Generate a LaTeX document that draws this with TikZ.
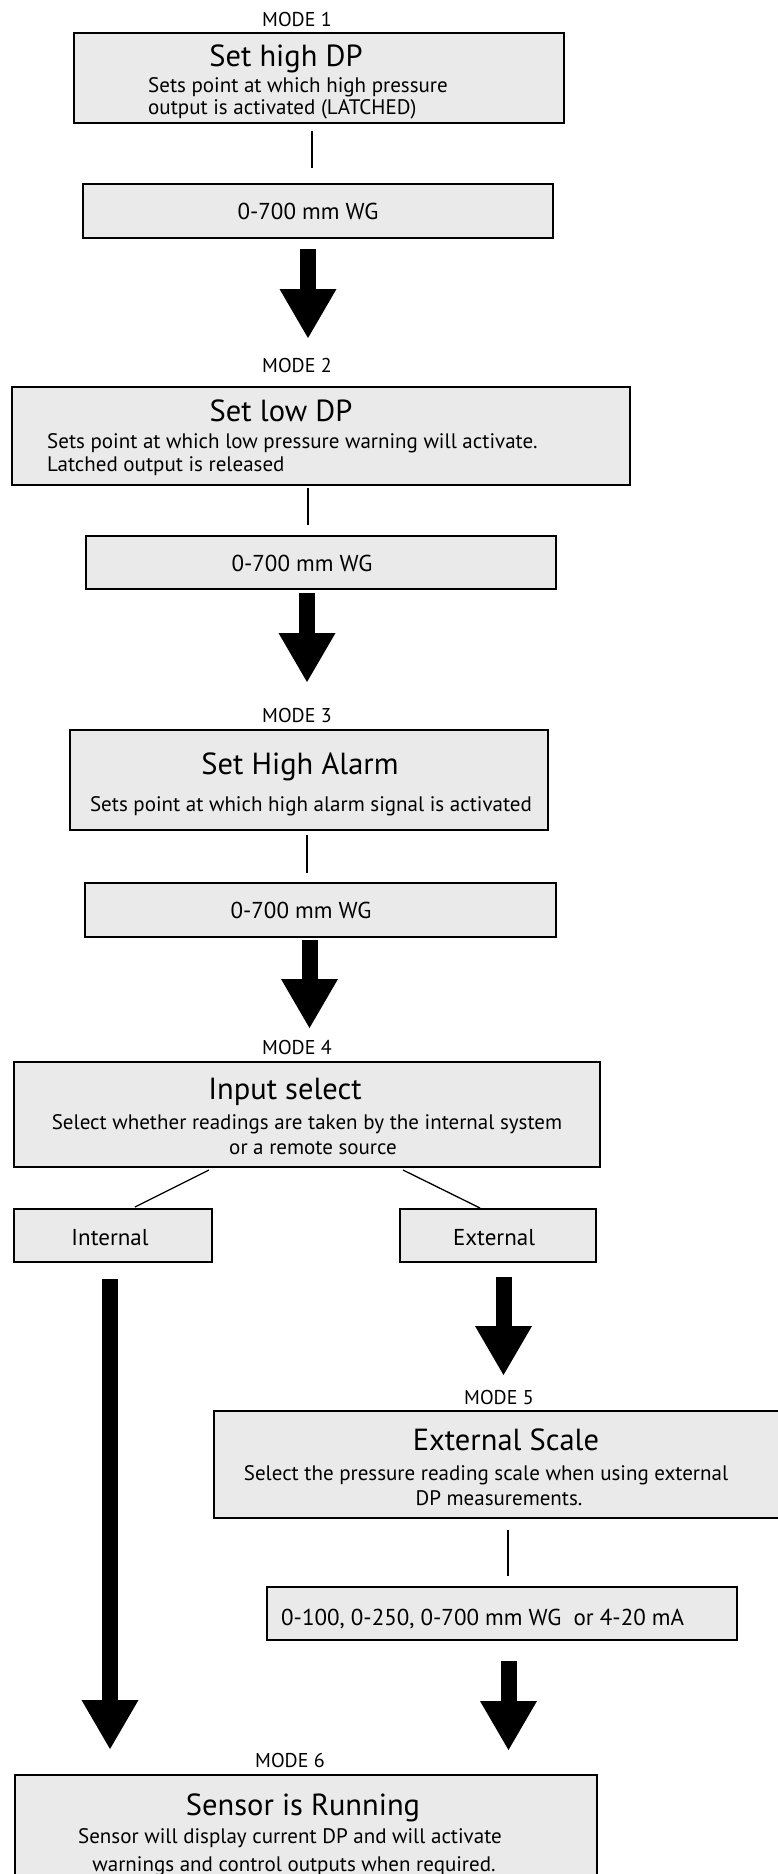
\documentclass[tikz,border=0pt]{standalone}
\usepackage{fontspec}
\setmainfont{PT Sans}
\usetikzlibrary{arrows.meta}
\definecolor{boxgray}{HTML}{EAEAEA}
\tikzset{
  box/.style={draw, line width=1.6pt, fill=boxgray, inner sep=0pt},
  modelabel/.style={font=\fontsize{20}{24}\selectfont, inner sep=0pt, anchor=base, yshift=-7pt},
  titletext/.style={font=\fontsize{30.5}{36}\selectfont, inner sep=0pt, anchor=base, yshift=-10.5pt},
  desctext/.style={font=\fontsize{21}{24}\selectfont, inner sep=0pt, anchor=base, yshift=-7pt},
  valtext/.style={font=\fontsize{23}{26}\selectfont, inner sep=0pt, anchor=base, yshift=-8pt},
  thinline/.style={line width=1.3pt},
  blockarrow/.style={line width=16pt, -{Triangle[width=57pt,length=49pt,line width=0pt]}}
}
\begin{document}
\begin{tikzpicture}[x=1pt,y=-1pt]
\useasboundingbox (0,0) rectangle (778,1874);

% ---------- MODE 1 ----------
\node[modelabel] (l1) at (297,19) {MODE 1};
\node[box, minimum width=490pt, minimum height=90pt] (m1) at (319,78) {};
\node[titletext] (t1) at (286,56) {Set high DP};
\node[desctext, anchor=base west] (d1a) at (148,85) {Sets point at which high pressure};
\node[desctext, anchor=base west] (d1b) at (148,107) {output is activated (LATCHED)};
\node[box, minimum width=470pt, minimum height=54pt] (v1) at (318,211) {};
\node[valtext] (vt1) at (308,211) {0-700 mm WG};
\coordinate (c1a) at (312,131);
\coordinate (c1b) at (312,168);
\draw[thinline] (c1a) -- (c1b);
\coordinate (a1s) at (308,249);
\coordinate (a1e) at (308,338);
\draw[blockarrow] (a1s) -- (a1e);

% ---------- MODE 2 ----------
\node[modelabel] (l2) at (297,365) {MODE 2};
\node[box, minimum width=618pt, minimum height=98pt] (m2) at (321,436) {};
\node[titletext] (t2) at (281,411) {Set low DP};
\node[desctext, anchor=base west] (d2a) at (47,441) {Sets point at which low pressure warning will activate.};
\node[desctext, anchor=base west] (d2b) at (47,464) {Latched output is released};
\node[box, minimum width=470pt, minimum height=53pt] (v2) at (321,562.5) {};
\node[valtext] (vt2) at (302,563) {0-700 mm WG};
\coordinate (c2a) at (308,488);
\coordinate (c2b) at (308,525);
\draw[thinline] (c2a) -- (c2b);
\coordinate (a2s) at (307,593);
\coordinate (a2e) at (307,682);
\draw[blockarrow] (a2s) -- (a2e);

% ---------- MODE 3 ----------
\node[modelabel] (l3) at (297,715) {MODE 3};
\node[box, minimum width=478pt, minimum height=100pt] (m3) at (309,780) {};
\node[titletext] (t3) at (300,764) {Set High Alarm};
\node[desctext] (d3a) at (311,804) {Sets point at which high alarm signal is activated};
\node[box, minimum width=471pt, minimum height=54pt] (v3) at (320.5,910) {};
\node[valtext] (vt3) at (301,910) {0-700 mm WG};
\coordinate (c3a) at (307,835);
\coordinate (c3b) at (307,873);
\draw[thinline] (c3a) -- (c3b);
\coordinate (a3s) at (309.5,940);
\coordinate (a3e) at (309.5,1028);
\draw[blockarrow] (a3s) -- (a3e);

% ---------- MODE 4 ----------
\node[modelabel] (l4) at (297,1047) {MODE 4};
\node[box, minimum width=586pt, minimum height=105pt] (m4) at (307,1114.5) {};
\node[titletext] (t4) at (285,1089) {Input select};
\node[desctext] (d4a) at (307,1122) {Select whether readings are taken by the internal system};
\node[desctext] (d4b) at (313,1147) {or a remote source};
\node[box, minimum width=198pt, minimum height=53pt] (int) at (113,1235.5) {};
\node[valtext] (intt) at (110,1237) {Internal};
\node[box, minimum width=196pt, minimum height=53pt] (ext) at (498,1235.5) {};
\node[valtext] (extt) at (494,1237) {External};
\coordinate (d4l1) at (209,1170);
\coordinate (d4l2) at (135,1207);
\coordinate (d4r1) at (403,1170);
\coordinate (d4r2) at (480,1208);
\draw[thinline] (d4l1) -- (d4l2);
\draw[thinline] (d4r1) -- (d4r2);
\coordinate (ails) at (110,1279);
\coordinate (aile) at (110,1749);
\draw[blockarrow] (ails) -- (aile);
\coordinate (aes) at (503.5,1277);
\coordinate (aee) at (503.5,1375);
\draw[blockarrow] (aes) -- (aee);

% ---------- MODE 5 ----------
\node[modelabel] (l5) at (499,1397) {MODE 5};
\node[box, minimum width=570pt, minimum height=107pt] (m5) at (499,1464.5) {};
\node[titletext] (t5) at (506,1440) {External Scale};
\node[desctext] (d5a) at (486,1473) {Select the pressure reading scale when using external};
\node[desctext] (d5b) at (499,1498) {DP measurements.};
\node[box, minimum width=470pt, minimum height=53pt] (v5) at (502,1613.5) {};
\node[valtext, anchor=base west] (vt5) at (281,1617) {0-100, 0-250, 0-700 mm WG\ \ or 4-20 mA};
\coordinate (c5a) at (508,1530);
\coordinate (c5b) at (508,1576);
\draw[thinline] (c5a) -- (c5b);
\coordinate (a5s) at (508.5,1661);
\coordinate (a5e) at (508.5,1750);
\draw[blockarrow] (a5s) -- (a5e);

% ---------- MODE 6 ----------
\node[modelabel] (l6) at (290,1760) {MODE 6};
\node[box, minimum width=582pt, minimum height=110pt] (m6) at (306,1830) {};
\node[titletext] (t6) at (303,1805) {Sensor is Running};
\node[desctext] (d6a) at (290,1836) {Sensor will display current DP and will activate};
\node[desctext] (d6b) at (294,1864) {warnings and control outputs when required.};
\end{tikzpicture}
\end{document}
